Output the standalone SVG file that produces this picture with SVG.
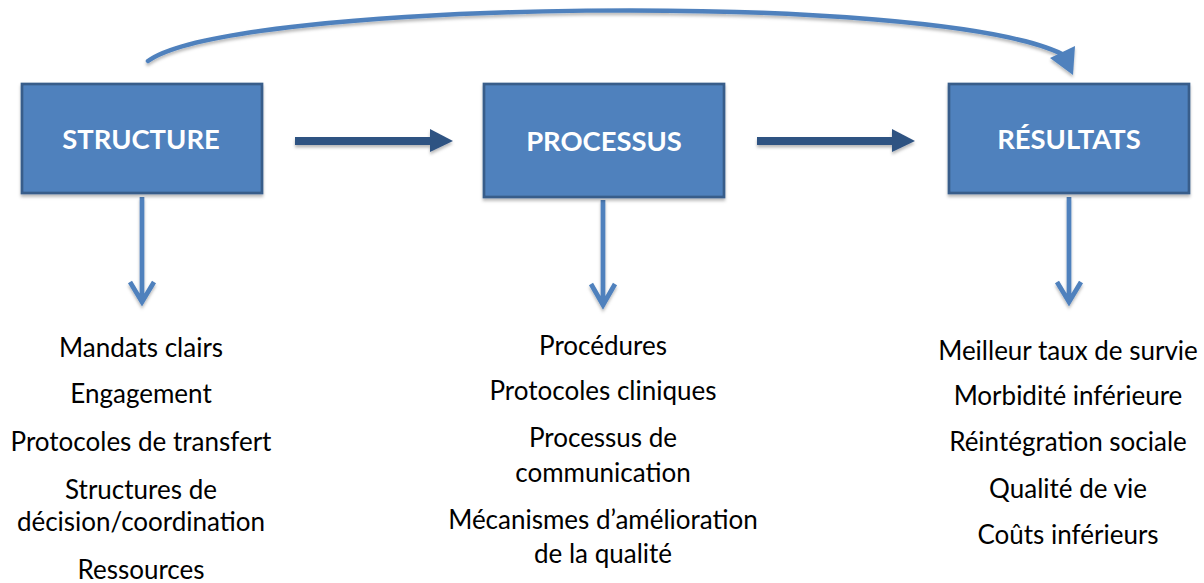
<svg xmlns="http://www.w3.org/2000/svg" width="1204" height="583" viewBox="0 0 1204 583">
<style>
.box{fill:#4f81bd;stroke:#385d8a;stroke-width:2.7}
.title{font-family:Lato,"Open Sans","Liberation Sans",sans-serif;font-weight:bold;font-size:27.4px;fill:#ffffff;text-anchor:middle}
.item{font-family:Lato,"Open Sans","Liberation Sans",sans-serif;font-size:26px;fill:#000000;text-anchor:middle}
.down{fill:none;stroke:#4f81bd;stroke-width:4.7}
.right{fill:none;stroke:#2f5282;stroke-width:8}
.head{fill:#2f5282}
.curve{fill:none;stroke:#4f81bd;stroke-width:4.5;stroke-linecap:round}
</style>
<defs>
<filter id="sh" x="-10%" y="-10%" width="120%" height="140%">
<feDropShadow dx="0" dy="2.5" stdDeviation="1.5" flood-color="#000" flood-opacity="0.28"/>
</filter>
</defs>
<rect width="1204" height="583" fill="#ffffff"/>
<g id="connectors" filter="url(#sh)">
<path class="curve" d="M148,61 C230,0 930,-10 1062,54"/>
<polygon points="1050,58 1075,46 1073,75" fill="#4f81bd"/>
<path class="right" d="M295,141 H432"/>
<polygon class="head" points="430,129 453,141 430,152"/>
<path class="right" d="M757,141 H894"/>
<polygon class="head" points="892,129 915,141 892,152"/>
<path class="down" d="M142,197 V302 M130,282 L142,302 L154,282"/>
<path class="down" d="M603,200 V305 M591,284 L603,305 L615,284"/>
<path class="down" d="M1069,197 V302 M1057,282 L1069,302 L1081,282"/>
</g>
<g id="structure">
<rect class="box" x="22" y="84" width="240" height="109" filter="url(#sh)"/>
<text class="title" x="141" y="149">STRUCTURE</text>
</g>
<g id="processus">
<rect class="box" x="484" y="84" width="240" height="113" filter="url(#sh)"/>
<text class="title" x="604" y="151">PROCESSUS</text>
</g>
<g id="resultats">
<rect class="box" x="949" y="84" width="240" height="109" filter="url(#sh)"/>
<text class="title" x="1069" y="149">RÉSULTATS</text>
</g>
<g id="structure-items">
<text class="item" x="141" y="357">Mandats clairs</text>
<text class="item" x="141" y="403">Engagement</text>
<text class="item" x="141" y="451">Protocoles de transfert</text>
<text class="item" x="141" y="499">Structures de</text>
<text class="item" x="141" y="531">décision/coordination</text>
<text class="item" x="141" y="579">Ressources</text>
</g>
<g id="processus-items">
<text class="item" x="603" y="355">Procédures</text>
<text class="item" x="603" y="400">Protocoles cliniques</text>
<text class="item" x="603" y="447">Processus de</text>
<text class="item" x="603" y="482">communication</text>
<text class="item" x="603" y="529">Mécanismes d’amélioration</text>
<text class="item" x="603" y="563">de la qualité</text>
</g>
<g id="resultats-items">
<text class="item" x="1068" y="360">Meilleur taux de survie</text>
<text class="item" x="1068" y="405">Morbidité inférieure</text>
<text class="item" x="1068" y="451">Réintégration sociale</text>
<text class="item" x="1068" y="498">Qualité de vie</text>
<text class="item" x="1068" y="544">Coûts inférieurs</text>
</g>
</svg>
